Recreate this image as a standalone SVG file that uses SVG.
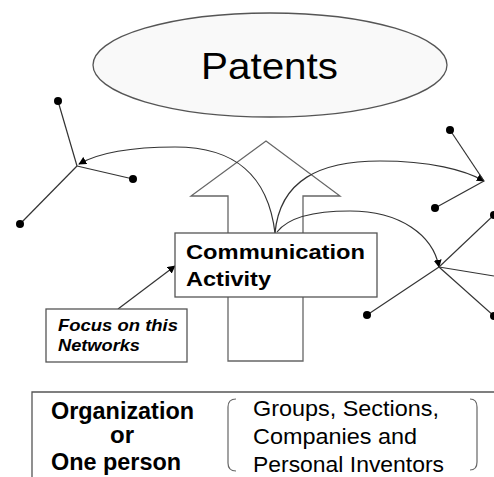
<svg xmlns="http://www.w3.org/2000/svg" width="494" height="477" viewBox="0 0 494 477">
<style>
.ln{fill:none;stroke:#333;stroke-width:1.2}
.box{fill:#fff;stroke:#555;stroke-width:1.3}
.dot{fill:#000}
.t{font-family:"Liberation Sans",Arial,sans-serif;fill:#000}
.b{font-weight:bold}
</style>
<defs>
<marker id="ah" viewBox="0 0 10 10" refX="9" refY="5" markerWidth="8" markerHeight="8" markerUnits="userSpaceOnUse" orient="auto">
<path d="M0,0 L10,5 L0,10 Z" fill="#000"/>
</marker>
</defs>
<rect width="494" height="477" fill="#fff"/>
<g id="patents">
<ellipse cx="270" cy="65" rx="177" ry="52" fill="#f9f9f9" stroke="#555" stroke-width="1.3"/>
<text class="t" x="201" y="79" font-size="37" textLength="137" lengthAdjust="spacingAndGlyphs">Patents</text>
</g>
<g id="big-arrow">
<path d="M228,361 L228,196 L191,196 L266,141 L340,196 L303,196 L303,361 Z" fill="#fff" stroke="#666" stroke-width="1.3"/>
</g>
<g id="connectors">
<path class="ln" d="M275,233 C268,175 235,147 175,147 C130,147 100,152 79,164" marker-end="url(#ah)"/>
<path class="ln" d="M275,233 C280,180 320,161 380,161 C430,161 465,170 484,181" marker-end="url(#ah)"/>
<path class="ln" d="M277,232 C290,215 320,211 350,211 C400,211 433,235 439,267" marker-end="url(#ah)"/>
<path class="ln" d="M118,309 L175,266" marker-end="url(#ah)"/>
<line class="ln" x1="77" y1="166" x2="58" y2="101"/>
<line class="ln" x1="77" y1="166" x2="133" y2="179"/>
<line class="ln" x1="77" y1="166" x2="20" y2="224"/>
<line class="ln" x1="484" y1="181" x2="450" y2="130"/>
<line class="ln" x1="484" y1="181" x2="435" y2="208"/>
<line class="ln" x1="439" y1="267" x2="367" y2="315"/>
<line class="ln" x1="439" y1="267" x2="494" y2="215"/>
<line class="ln" x1="439" y1="267" x2="494" y2="276"/>
<line class="ln" x1="439" y1="267" x2="494" y2="316"/>
</g>
<g id="left-network">
<circle class="dot" cx="58" cy="101" r="4"/>
<circle class="dot" cx="133" cy="179" r="4"/>
<circle class="dot" cx="20" cy="224" r="4"/>
</g>
<g id="upper-right-network">
<circle class="dot" cx="450" cy="130" r="4"/>
<circle class="dot" cx="435" cy="208" r="4"/>
</g>
<g id="lower-right-network">
<circle class="dot" cx="367" cy="315" r="4"/>
<circle class="dot" cx="494" cy="215" r="4"/>
<circle class="dot" cx="494" cy="316" r="4"/>
</g>
<g id="communication">
<rect class="box" x="175" y="233" width="202" height="64"/>
<text class="t b" x="186" y="259" font-size="21" textLength="179" lengthAdjust="spacingAndGlyphs">Communication</text>
<text class="t b" x="186" y="286" font-size="21" textLength="85" lengthAdjust="spacingAndGlyphs">Activity</text>
</g>
<g id="focus">
<rect class="box" x="46" y="309" width="141" height="53"/>
<text class="t b" font-style="italic" x="58" y="331" font-size="16.5" textLength="120" lengthAdjust="spacingAndGlyphs">Focus on this</text>
<text class="t b" font-style="italic" x="58" y="351" font-size="16.5" textLength="82" lengthAdjust="spacingAndGlyphs">Networks</text>
</g>
<g id="legend">
<path d="M32,477 L32,392 L494,392" fill="none" stroke="#555" stroke-width="1.3"/>
<text class="t b" x="51" y="419" font-size="23" textLength="143" lengthAdjust="spacingAndGlyphs">Organization</text>
<text class="t b" x="110" y="443" font-size="23" textLength="24" lengthAdjust="spacingAndGlyphs">or</text>
<text class="t b" x="51" y="470" font-size="23" textLength="130" lengthAdjust="spacingAndGlyphs">One person</text>
<path d="M236,399 Q228,399 228,407 L228,463 Q228,471 236,471" fill="none" stroke="#666" stroke-width="1.2"/>
<path d="M470,399 Q477,399 477,407 L477,462 Q477,470 470,470" fill="none" stroke="#666" stroke-width="1.2"/>
<text class="t" x="253" y="416" font-size="22" textLength="186" lengthAdjust="spacingAndGlyphs">Groups, Sections,</text>
<text class="t" x="253" y="444" font-size="22" textLength="164" lengthAdjust="spacingAndGlyphs">Companies and</text>
<text class="t" x="253" y="472" font-size="22" textLength="191" lengthAdjust="spacingAndGlyphs">Personal Inventors</text>
</g>
</svg>
